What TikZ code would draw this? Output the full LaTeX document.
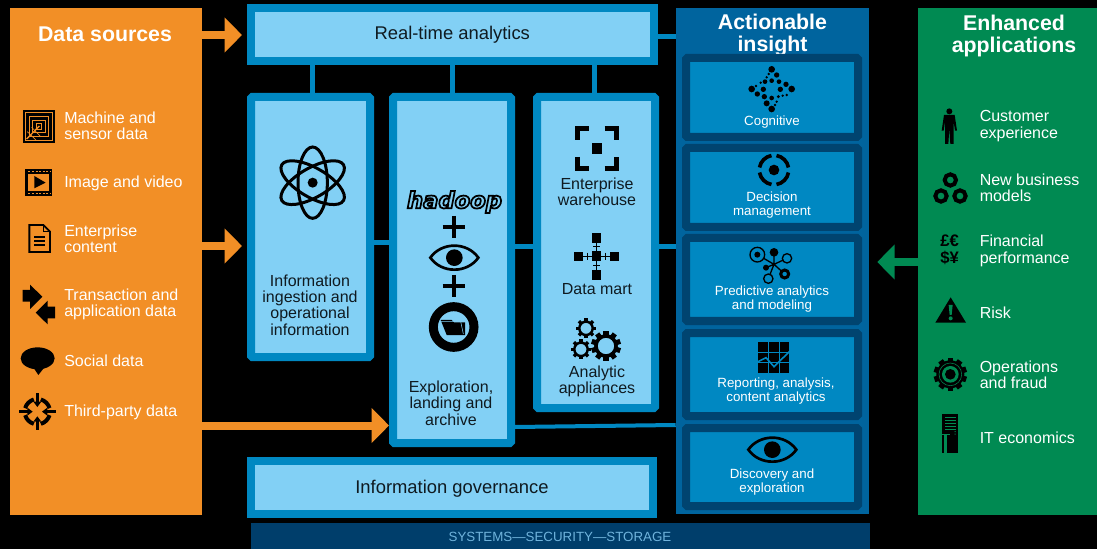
\documentclass[tikz,border=0pt]{standalone}
\usepackage{fontspec}
\setmainfont{Liberation Sans}
\newfontfamily\hadoopfont{DejaVu Sans Bold Oblique}
\usetikzlibrary{positioning}
\usetikzlibrary{arrows.meta}
\usetikzlibrary{calc}
\definecolor{srcorange}{HTML}{F28F26}
\definecolor{appgreen}{HTML}{008A52}
\definecolor{insightblue}{HTML}{00649E}
\definecolor{carddark}{HTML}{004470}
\definecolor{cardblue}{HTML}{0088C2}
\definecolor{framecol}{HTML}{0088C2}
\definecolor{skyfill}{HTML}{82D0F5}
\definecolor{barcol}{HTML}{003E6B}
\definecolor{bartext}{HTML}{6FB3DC}
\definecolor{inktext}{HTML}{0F1A20}
\tikzset{
    block/.style={fill=#1, inner sep=0pt},
    panel/.style={draw=framecol, fill=skyfill, line width=6pt, inner sep=0pt, text=inktext,
        font=\fontsize{13.8}{16}\selectfont},
    roundpanel/.style={panel, rounded corners=1pt},
    card/.style={draw=carddark, fill=cardblue, line width=6pt, inner sep=0pt, rounded corners=1pt,
        minimum width=129pt},
    srctext/.style={text=white, anchor=west, align=left, inner sep=0pt,
        font=\fontsize{12}{12.3}\selectfont},
    maintext/.style={text=inktext, align=center, inner sep=0pt,
        font=\fontsize{12}{12.3}\selectfont},
    cardtext/.style={text=white, align=center, inner sep=0pt,
        font=\fontsize{10}{10.5}\selectfont},
    headtext/.style={text=white, align=center, inner sep=0pt,
        font=\fontsize{16}{16.5}\selectfont\bfseries},
    link/.style={draw=framecol, line width=3.75pt},
    flow/.style={-{Triangle[length=13pt,width=25.5pt]}, line width=6pt},
    zoomsrc/.style={shift={(0,90)},x=.25pt,y=-.25pt},
    zoommid/.style={shift={(250,90)},x=.25pt,y=-.25pt},
    zoomtop/.style={shift={(670,0)},x=.25pt,y=-.25pt},
    zoomlow/.style={shift={(670,320)},x=.25pt,y=-.25pt},
    zoomapp/.style={shift={(870,90)},x=.25pt,y=-.25pt},
    eyeicon/.pic={
        \draw[line width=2pt, line join=miter] (-72,0) .. controls (-38,-48) and (38,-48) .. (72,0)
            .. controls (38,48) and (-38,48) .. (-72,0) -- cycle;
        \fill (0,0) circle (25);
    },
}
\newcommand{\gearicon}[4]{
    \foreach \a in {0,#4,...,359}
        \fill[rotate around={\a:(#1,#2)}] ($(#1,#2)+(-.17*#3,-.6*#3)$) rectangle ($(#1,#2)+(.17*#3,-#3)$);
    \draw[line width=#3*.06pt] (#1,#2) circle ({.67*#3});
}
\begin{document}
\begin{tikzpicture}[x=.75pt,y=-.75pt]
        \fill[black] (0,0) rectangle (1097,549);

        \node[block=srcorange, minimum width=144pt, minimum height=380.25pt] (sources) at (106,261.5) {};
        \node[block=appgreen, minimum width=134.25pt, minimum height=380.25pt] (apps) at (1007.5,261.5) {};
        \node[block=insightblue, minimum width=144.75pt, minimum height=379.5pt] (insight) at (772.5,261) {};
        \node[block=barcol, minimum width=464.25pt, minimum height=19.5pt] (bar) at (560.5,536) {};
        \node[text=bartext, inner sep=0pt, font=\fontsize{10}{12}\selectfont] (barlabel) at (560,536.5) {SYSTEMS—SECURITY—STORAGE};

        \node[panel, minimum width=301.9pt, minimum height=39.75pt] (realtime) at (452.25,34.5) {Real-time analytics};
        \node[panel, minimum width=301.5pt, minimum height=39.75pt, text height=11.5pt] (govern) at (452,487.5) {Information governance};
        \node[roundpanel, minimum width=89.25pt, minimum height=195pt] (ingest) at (310.5,227) {};
        \node[roundpanel, minimum width=88.5pt, minimum height=259.5pt] (explore) at (452,270) {};
        \node[roundpanel, minimum width=88.5pt, minimum height=233.25pt] (store) at (596,252.5) {};

        \node[headtext] (sourcehead) at (105,34) {Data sources};
        \node[headtext] (insighthead) at (772.5,35.5) {Actionable\\insight};
        \node[headtext] (apphead) at (1014,36) {Enhanced\\applications};

        \node[card, minimum height=59.25pt] (cardcog) at (772,97.5) {};
        \node[card, minimum height=59.25pt] (carddec) at (772,187.5) {};
        \node[card, minimum height=62.25pt] (cardpred) at (772,279.5) {};
        \node[card, minimum height=62.25pt] (cardrep) at (772,374.5) {};
        \node[card, minimum height=58.5pt] (carddisc) at (772,467) {};

        \draw[link] (ingest.north -| 312,0) -- (realtime.south -| 312,0);
        \draw[link] (explore.north) -- (realtime.south -| explore.north);
        \draw[link] (store.north -| 594,0) -- (realtime.south -| 594,0);
        \draw[link] (ingest.east |- 0,243) -- (explore.west |- 0,243);
        \draw[link] (explore.east |- 0,247) -- (store.west |- 0,247);
        \draw[link] (store.east |- 0,247) -- (insight.west |- 0,247);
        \draw[link] (realtime.east |- 0,37) -- (insight.west |- 0,37);
        \draw[link, line width=3pt] (explore.east |- 0,427) -- (insight.west |- 0,425);

        \draw[flow, draw=srcorange, fill=srcorange, shorten >=3.75pt] (sources.east |- 0,35) -- (realtime.west |- 0,35);
        \draw[flow, draw=srcorange, fill=srcorange, shorten >=3.75pt] (sources.east |- 0,246) -- (ingest.west |- 0,246);
        \draw[flow, draw=srcorange, fill=srcorange] (sources.east |- 0,425.5) -- (explore.west |- 0,425.5);
        \draw[flow, draw=appgreen, fill=appgreen, shorten >=6pt] (apps.west |- 0,262) -- (insight.east |- 0,262);

        \node[srctext] (machine) at (64,126) {Machine and\\sensor data};
        \node[srctext] (image) at (64,183.5) {Image and video};
        \node[srctext] (content) at (64,239) {Enterprise\\content};
        \node[srctext] (transact) at (64,304.5) {Transaction and\\application data};
        \node[srctext] (social) at (64,360.5) {Social data};
        \node[srctext] (third) at (64,412) {Third-party data};

        \node[srctext] (customer) at (979.5,126) {Customer\\experience};
        \node[srctext] (models) at (979.5,188) {New business\\models};
        \node[srctext] (finance) at (979.5,251) {Financial\\performance};
        \node[srctext] (risk) at (979.5,312.5) {Risk};
        \node[srctext] (ops) at (979.5,375) {Operations\\and fraud};
        \node[srctext] (iteco) at (979.5,437.5) {IT economics};

        \node[maintext] (ingestlabel) at (310,305) {Information\\ingestion and\\operational\\information};
        \node[maintext] (explorelabel) at (451,403) {Exploration,\\landing and\\archive};
        \node[maintext] (whlabel) at (597,191.5) {Enterprise\\warehouse};
        \node[maintext] (martlabel) at (597,289.5) {Data mart};
        \node[maintext] (applabel) at (597,381.5) {Analytic\\appliances};

        \node[cardtext] (coglabel) at (772,122.5) {Cognitive};
        \node[cardtext] (declabel) at (772,205.5) {Decision\\management};
        \node[cardtext] (predlabel) at (772,299.5) {Predictive analytics\\and modeling};
        \node[cardtext] (replabel) at (776,391.5) {Reporting, analysis,\\content analytics};
        \node[cardtext] (disclabel) at (772,482) {Discovery and\\exploration};

        \node[inner sep=0pt, text=skyfill, font=\hadoopfont\fontsize{17}{17}\selectfont] (hadoop) at (454.5,202)
            {\special{pdf:code 0 0 0 RG 1.3 w 2 Tr}hadoop\special{pdf:code 0 Tr 0 w}};

        \begin{scope}[zoomsrc]
            \fill (68,60) rectangle (165,158);
            \foreach \i in {8,19,30,41}
                \draw[srcorange, line width=.5pt] (68+\i,60+\i) rectangle (165-\i,158-\i);
            \draw[srcorange, line width=1pt] (80,147) -- (118,108);
            \draw[srcorange, line width=.5pt] (82,125) -- (108,150) (95,112) -- (122,140);

            \fill (75,237) rectangle (157,318);
            \fill[srcorange] (85,251) rectangle (147,304);
            \draw[srcorange, line width=.55pt, dash pattern=on 1.5pt off 1.2pt] (85,244) -- (150,244) (85,311) -- (150,311);
            \fill (103,258) -- (137,278) -- (103,295) -- cycle;

            \draw[line width=1.4pt] (88,405) -- (130,405) -- (150,425) -- (150,486) -- (88,486) -- cycle;
            \draw[line width=1pt] (130,405) -- (130,425) -- (150,425);
            \draw[line width=1pt] (103,441) -- (135,441) (103,453) -- (135,453) (103,465) -- (135,465);

            \fill (68,600) -- (90,600) -- (90,584) -- (127,620) -- (90,657) -- (90,635) -- (68,635) -- cycle;
            \fill (165,650) -- (143,650) -- (143,632) -- (107,668) -- (143,703) -- (143,685) -- (165,685) -- cycle;

            \fill (113,805) ellipse (51 and 33);
            \fill (100,832) -- (115,855) -- (135,830) -- cycle;

            \foreach \a in {0,90,180,270} {
                \draw[line width=3pt, rotate around={\a:(112,965)}] ($(112,965)+(16:38)$) arc (16:74:38);
                \begin{scope}[shift={(112,965)}, rotate=\a]
                    \fill (-5,-55) rectangle (5,-26);
                    \fill (0,-14) -- (-12,-30) -- (12,-30) -- cycle;
                \end{scope}
            }
        \end{scope}

        \begin{scope}[zoommid]
            \foreach \a in {30,90,150}
                \draw[line width=2.25pt, rotate around={\a:(188,278)}] (188,278) ellipse (107 and 44);
            \fill (188,278) circle (15);

            \draw[line width=2.75pt] (578,411) -- (644,411) (611,378) -- (611,444);
            \draw[line width=2.75pt] (578,588) -- (644,588) (611,555) -- (611,621);
            \pic at (613,503) {eyeicon};
            \draw[line width=6.75pt] (611,711) circle (61);
            \fill (572,690) -- (605,690) -- (612,697) -- (645,697) -- (645,735) -- (590,735) -- cycle;
            \draw[skyfill, line width=.4pt] (572,694) -- (632,694) -- (640,732);

            \draw[line width=3.5pt] (982,150) -- (982,115) -- (1017,115) (1064,115) -- (1099,115) -- (1099,150)
                (982,201) -- (982,236) -- (1017,236) (1064,236) -- (1099,236) -- (1099,201);
            \fill (1025,160) rectangle (1056,192);

            \draw[line width=.75pt] (986,499) -- (1094,499) (1040,444) -- (1040,555)
                (1013,488) -- (1013,510) (1067,488) -- (1067,510) (1029,471) -- (1051,471) (1029,527) -- (1051,527);
            \foreach \x/\y in {986/499,1094/499,1040/444,1040/555,1040/498}
                \fill (\x-14,\y-14) rectangle (\x+14,\y+14);

            \gearicon{1068}{768}{45}{36}
            \gearicon{1008}{715}{30}{45}
            \gearicon{993}{778}{30}{45}
        \end{scope}

        \begin{scope}[zoomtop]
            \foreach \x/\y/\r in {305/208/10,365/267/10,245/267/10,305/327/10,320/225/8,348/253/8,327/245/7,305/242/7,
                285/245/7,280/268/8,262/282/8,283/290/8,305/294/7,331/268/8,290/310/9,325/290/5,290/232/4,
                272/248/4,258/258/4,296/222/4,350/285/4,338/287/4,320/305/4,315/315/4}
                \fill (\x,\y) circle (\r);

            \foreach \a in {0,90,180,270}
                \draw[line width=2.75pt, rotate around={\a:(312,510)}] ($(312,510)+(10:44)$) arc (10:80:44);
            \fill (312,510) circle (16);

            \draw[line width=1pt] (312,793) -- (262,764) (312,793) -- (312,757) (312,793) -- (351,775)
                (312,793) -- (344,822) (312,793) -- (295,836) (312,793) -- (288,803);
            \draw[line width=1pt, fill=cardblue] (262,764) circle (22);
            \fill (262,764) circle (9);
            \fill (312,757) circle (13);
            \draw[line width=1pt, fill=cardblue] (351,775) circle (14);
            \draw[line width=2.25pt, fill=cardblue] (344,822) circle (12);
            \draw[line width=1pt, fill=cardblue] (295,836) circle (14);
            \fill (288,803) circle (9);
        \end{scope}

        \begin{scope}[zoomlow]
            \fill (264,66) rectangle (358,159);
            \draw[cardblue, line width=.3pt] (295,66) -- (295,159) (327,66) -- (327,159) (264,97) -- (358,97) (264,128) -- (358,128);
            \draw[cardblue, line width=1.2pt] (264,125) -- (288,113) -- (312,140) -- (358,95);
            \pic at (307,389) {eyeicon};
        \end{scope}

        \begin{scope}[zoomapp]
            \fill (238,64) circle (9);
            \fill (222,75) -- (254,75) -- (261,122) -- (255,122) -- (251,95) -- (251,162) -- (241,162) -- (238,115)
                -- (235,162) -- (225,162) -- (225,95) -- (221,122) -- (215,122) -- cycle;

            \draw[line width=3pt] (241,270) circle (17) (213,318) circle (17) (270,318) circle (17);

            \node[inner sep=0pt, text=black, align=center, font=\fontsize{12.5}{12.5}\selectfont\bfseries] (money) at (239,479) {£€\\\$¥};

            \fill (242,622) -- (196,698) -- (288,698) -- cycle;
            \fill[appgreen] (236,645) -- (248,645) -- (245,675) -- (239,675) -- cycle;
            \fill[appgreen] (242,685) circle (6);

            \gearicon{241}{853}{50}{36}
            \fill (241,853) circle (42);
            \draw[appgreen, line width=.4pt] (241,853) circle (34);
            \fill[appgreen] (241,853) circle (25);
            \fill (241,853) circle (16);

            \fill (216,972) rectangle (264,1088);
            \foreach \y in {983,992,1001,1010,1019}
                \draw[appgreen, line width=.5pt] (226,\y) -- (258,\y);
            \fill[appgreen] (254,1023) rectangle (257,1026) (254,1031) rectangle (257,1034);
            \draw[appgreen, line width=.6pt] (216,1033) -- (240,1033);
            \fill[appgreen] (222,1033) rectangle (230,1088);
        \end{scope}
    \end{tikzpicture}
\end{document}
